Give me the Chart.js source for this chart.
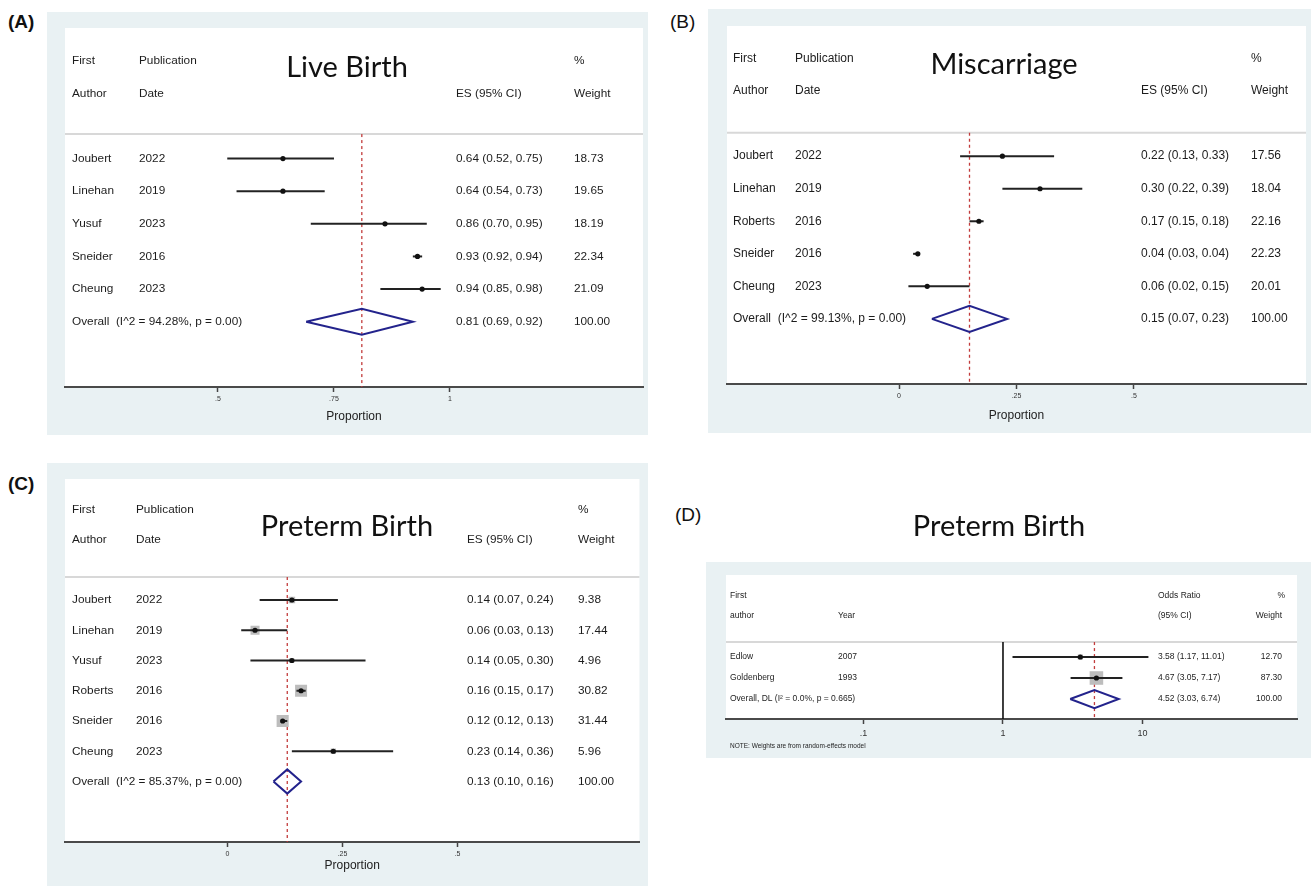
<!DOCTYPE html>
<html>
<head>
<meta charset="utf-8">
<script src="https://cdn.jsdelivr.net/npm/chart.js@4.4.1/dist/chart.umd.min.js"></script>
<style>
  html, body { margin: 0; padding: 0; background: #ffffff; }
  body { width: 1311px; height: 886px; position: relative; overflow: hidden; font-family: "Liberation Sans", Arial, sans-serif; }
  canvas { position: absolute; }
  .plabel { position: absolute; font: bold 19px "Liberation Sans", Arial, sans-serif; color: #111; }
</style>
</head>
<body>
<div class="plabel" style="left:8px; top:11px;">(A)</div>
<div class="plabel" style="left:670px; top:11px; font-weight:normal;">(B)</div>
<div class="plabel" style="left:8px; top:473px;">(C)</div>
<div class="plabel" style="left:675px; top:504px; font-weight:normal;">(D)</div>

<canvas id="cA" width="601" height="423" style="left:47px; top:12px; background:#e9f1f3;"></canvas>
<canvas id="cB" width="603" height="424" style="left:708px; top:9px; background:#e9f1f3;"></canvas>
<canvas id="cC" width="601" height="423" style="left:47px; top:463px; background:#e9f1f3;"></canvas>
<canvas id="cD" width="611" height="280" style="left:700px; top:490px;"></canvas>

<script>
// ---------------- DATA ----------------
// Panel A: Live Birth
const authorsA = ["Joubert", "Linehan", "Yusuf", "Sneider", "Cheung"];
const yearsA   = ["2022", "2019", "2023", "2016", "2023"];
const esA      = [0.64, 0.64, 0.86, 0.93, 0.94];
const loA      = [0.52, 0.54, 0.70, 0.92, 0.85];
const hiA      = [0.75, 0.73, 0.95, 0.94, 0.98];
const weightA  = [18.73, 19.65, 18.19, 22.34, 21.09];
const overallA = { es: 0.81, lo: 0.69, hi: 0.92, label: "Overall  (I^2 = 94.28%, p = 0.00)" };
const ticksA   = [0.5, 0.75, 1];
const tickLabelsA = [".5", ".75", "1"];

// Panel B: Miscarriage
const authorsB = ["Joubert", "Linehan", "Roberts", "Sneider", "Cheung"];
const yearsB   = ["2022", "2019", "2016", "2016", "2023"];
const esB      = [0.22, 0.30, 0.17, 0.04, 0.06];
const loB      = [0.13, 0.22, 0.15, 0.03, 0.02];
const hiB      = [0.33, 0.39, 0.18, 0.04, 0.15];
const weightB  = [17.56, 18.04, 22.16, 22.23, 20.01];
const overallB = { es: 0.15, lo: 0.07, hi: 0.23, label: "Overall  (I^2 = 99.13%, p = 0.00)" };
const ticksB   = [0, 0.25, 0.5];
const tickLabelsB = ["0", ".25", ".5"];

// Panel C: Preterm Birth (proportion)
const authorsC = ["Joubert", "Linehan", "Yusuf", "Roberts", "Sneider", "Cheung"];
const yearsC   = ["2022", "2019", "2023", "2016", "2016", "2023"];
const esC      = [0.14, 0.06, 0.14, 0.16, 0.12, 0.23];
const loC      = [0.07, 0.03, 0.05, 0.15, 0.12, 0.14];
const hiC      = [0.24, 0.13, 0.30, 0.17, 0.13, 0.36];
const weightC  = [9.38, 17.44, 4.96, 30.82, 31.44, 5.96];
const overallC = { es: 0.13, lo: 0.10, hi: 0.16, label: "Overall  (I^2 = 85.37%, p = 0.00)" };
const ticksC   = [0, 0.25, 0.5];
const tickLabelsC = ["0", ".25", ".5"];

// Panel D: Preterm Birth (odds ratio)
const authorsD = ["Edlow", "Goldenberg"];
const yearsD   = ["2007", "1993"];
const esD      = [3.58, 4.67];
const loD      = [1.17, 3.05];
const hiD      = [11.01, 7.17];
const weightD  = [12.70, 87.30];
const overallD = { es: 4.52, lo: 3.03, hi: 6.74, label: "Overall, DL (I\u00B2 = 0.0%, p = 0.665)" };
const ticksD   = [0.1, 1, 10];
const tickLabelsD = [".1", "1", "10"];

// ---------------- HELPERS ----------------
const TXT = "#1c1c1c";
const NAVY = "#23238c";
const RED = "#c23b3b";

function f2(v) { return v.toFixed(2); }

function buildDatasets(p) {
  const ds = [];
  const n = p.es.length;
  // point estimates (top)
  ds.push({ type: "scatter", order: 0, data: p.es.map((v, i) => ({ x: v, y: i })),
            pointRadius: 2.6, pointBackgroundColor: "#111", pointBorderWidth: 0, pointHoverRadius: 2.6 });
  // confidence intervals
  for (let i = 0; i < n; i++) {
    ds.push({ type: "line", order: 1, data: [{ x: p.lo[i], y: i }, { x: p.hi[i], y: i }],
              borderColor: "#222", borderWidth: 2, pointRadius: 0, pointHoverRadius: 0 });
  }
  // pooled diamond
  const o = p.overall, h = p.diamondH;
  ds.push({ type: "line", order: 1,
            data: [{ x: o.lo, y: n }, { x: o.es, y: n - h }, { x: o.hi, y: n }, { x: o.es, y: n + h }, { x: o.lo, y: n }],
            borderColor: NAVY, borderWidth: 2, pointRadius: 0, pointHoverRadius: 0, tension: 0, borderJoinStyle: "miter" });
  // weight boxes
  if (p.boxK) {
    ds.push({ type: "scatter", order: 2, data: p.es.map((v, i) => ({ x: v, y: i })),
              pointStyle: "rect", pointBackgroundColor: "#bdbdbd", pointBorderWidth: 0,
              pointRadius: p.weight.map(w => p.boxK * Math.sqrt(w) / Math.SQRT2),
              pointHoverRadius: p.weight.map(w => p.boxK * Math.sqrt(w) / Math.SQRT2) });
  }
  // null line (OR = 1)
  if (p.nullLine !== undefined) {
    ds.push({ type: "line", order: 3, data: [{ x: p.nullLine, y: p.sep }, { x: p.nullLine, y: p.ymax }],
              borderColor: "#111", borderWidth: 1.6, pointRadius: 0, pointHoverRadius: 0 });
  }
  // pooled-estimate reference line
  ds.push({ type: "line", order: 4, data: [{ x: o.es, y: p.sep }, { x: o.es, y: p.ymax }],
            borderColor: RED, borderWidth: 1.3, borderDash: [3, 3], pointRadius: 0, pointHoverRadius: 0 });
  return ds;
}

function textPlugin(p) {
  return {
    id: "forestText",
    beforeDraw(chart) {
      const { ctx, chartArea } = chart;
      ctx.save();
      if (p.outer) {
        ctx.fillStyle = "#e9f1f3";
        ctx.fillRect(p.outer[0], p.outer[1], p.outer[2], p.outer[3]);
      }
      ctx.fillStyle = "#ffffff";
      ctx.fillRect(chartArea.left, chartArea.top, chartArea.right - chartArea.left, chartArea.bottom - chartArea.top);
      // header separator
      const ys = chart.scales.y.getPixelForValue(p.sep);
      ctx.strokeStyle = "#d8d8d8";
      ctx.lineWidth = 2;
      ctx.beginPath();
      ctx.moveTo(chartArea.left, ys);
      ctx.lineTo(chartArea.right, ys);
      ctx.stroke();
      ctx.restore();
    },
    afterDraw(chart) {
      const { ctx } = chart;
      const y = chart.scales.y;
      const c = p.cols;
      ctx.save();
      ctx.fillStyle = TXT;
      ctx.textBaseline = "middle";
      ctx.font = p.font;
      const put = (t, x, row, align) => { ctx.textAlign = align || "left"; ctx.fillText(t, x, y.getPixelForValue(row)); };
      // headers
      p.headers.forEach(hd => put(hd[0], hd[1], hd[2], hd[3]));
      // rows
      const n = p.es.length;
      for (let i = 0; i < n; i++) {
        put(p.authors[i], c.name, i);
        put(p.years[i], c.year, i);
        put(f2(p.es[i]) + " (" + f2(p.lo[i]) + ", " + f2(p.hi[i]) + ")", c.es, i);
        put(f2(p.weight[i]), c.w, i, c.wAlign);
      }
      const o = p.overall;
      put(o.label, c.name, n);
      put(f2(o.es) + " (" + f2(o.lo) + ", " + f2(o.hi) + ")", c.es, n);
      put("100.00", c.w, n, c.wAlign);
      // big title
      ctx.font = p.titleFont;
      ctx.textAlign = "center";
      ctx.textBaseline = "alphabetic";
      ctx.fillStyle = "#111";
      ctx.fillText(p.title, p.titleX, p.titleY);
      if (p.note) {
        ctx.font = "6.5px 'Liberation Sans', Arial, sans-serif";
        ctx.textAlign = "left";
        ctx.textBaseline = "middle";
        ctx.fillStyle = TXT;
        ctx.fillText(p.note[0], p.note[1], p.note[2]);
      }
      ctx.restore();
    }
  };
}

function makeChart(id, p) {
  const xScale = {
    type: p.logX ? "logarithmic" : "linear",
    min: p.xmin, max: p.xmax, position: "bottom",
    afterBuildTicks: s => { s.ticks = p.ticks.map(v => ({ value: v })); },
    afterFit: s => { s.height = p.axisH; },
    ticks: { callback: (v, i) => p.tickLabels[i], font: { size: p.tickFont, family: "'Liberation Sans', Arial, sans-serif" },
             color: "#333", padding: p.tickPad, autoSkip: false, maxRotation: 0, minRotation: 0 },
    grid: { display: true, drawOnChartArea: false, drawTicks: true, tickLength: 5, tickColor: "#444", tickWidth: 1.5 },
    border: { display: true, color: "#4a4a4a", width: 2 },
    title: p.xTitle ? { display: true, text: p.xTitle, color: "#222",
                        font: { size: 12, family: "'Liberation Sans', Arial, sans-serif" }, padding: { top: 0, bottom: p.titlePad } }
                    : { display: false }
  };
  return new Chart(document.getElementById(id), {
    type: "scatter",
    data: { datasets: buildDatasets(p) },
    options: {
      responsive: false, animation: false, devicePixelRatio: 1,
      layout: { padding: { left: p.pad[0], top: p.pad[1], right: p.pad[2], bottom: 0 } },
      plugins: { legend: { display: false }, tooltip: { enabled: false } },
      events: [],
      scales: {
        x: xScale,
        y: { type: "linear", reverse: true, min: p.ymin, max: p.ymax, display: false }
      }
    },
    plugins: [textPlugin(p)]
  });
}

const FONT = "11.8px 'Liberation Sans', Arial, sans-serif";
const TFONT = "29px Lato, 'Open Sans', sans-serif";

makeChart("cA", {
  authors: authorsA, years: yearsA, es: esA, lo: loA, hi: hiA, weight: weightA, overall: overallA,
  ticks: ticksA, tickLabels: tickLabelsA,
  xmin: 0.1703, xmax: 1.416, ymin: -4, ymax: 7, sep: -0.75, diamondH: 0.4,
  pad: [18, 16, 5], axisH: 48, tickFont: 7, tickPad: 3, xTitle: "Proportion", titlePad: 11,
  font: FONT, titleFont: TFONT, title: "Live Birth", titleX: 300, titleY: 65,
  cols: { name: 25, year: 92, es: 409, w: 527 },
  headers: [["First", 25, -3], ["Author", 25, -2], ["Publication", 92, -3], ["Date", 92, -2],
            ["ES (95% CI)", 409, -2], ["%", 527, -3], ["Weight", 527, -2]]
});

makeChart("cB", {
  authors: authorsB, years: yearsB, es: esB, lo: loB, hi: hiB, weight: weightB, overall: overallB,
  ticks: ticksB, tickLabels: tickLabelsB,
  xmin: -0.366, xmax: 0.866, ymin: -4, ymax: 7, sep: -0.72, diamondH: 0.4,
  pad: [19, 17, 5], axisH: 49, tickFont: 7, tickPad: 3, xTitle: "Proportion", titlePad: 10,
  font: "12px 'Liberation Sans', Arial, sans-serif", titleFont: TFONT, title: "Miscarriage", titleX: 296, titleY: 65,
  cols: { name: 25, year: 87, es: 433, w: 543 },
  headers: [["First", 25, -3], ["Author", 25, -2], ["Publication", 87, -3], ["Date", 87, -2],
            ["ES (95% CI)", 433, -2], ["%", 543, -3], ["Weight", 543, -2]]
});

makeChart("cC", {
  authors: authorsC, years: yearsC, es: esC, lo: loC, hi: hiC, weight: weightC, overall: overallC,
  ticks: ticksC, tickLabels: tickLabelsC, boxK: 2.16,
  xmin: -0.3528, xmax: 0.895, ymin: -4, ymax: 8, sep: -0.76, diamondH: 0.4,
  pad: [18, 16, 5], axisH: 44, tickFont: 7, tickPad: 3, xTitle: "Proportion", titlePad: 13,
  font: FONT, titleFont: TFONT, title: "Preterm Birth", titleX: 300, titleY: 73,
  cols: { name: 25, year: 89, es: 420, w: 531 },
  headers: [["First", 25, -3], ["Author", 25, -2], ["Publication", 89, -3], ["Date", 89, -2],
            ["ES (95% CI)", 420, -2], ["%", 531, -3], ["Weight", 531, -2]]
});

makeChart("cD", {
  authors: authorsD, years: yearsD, es: esD, lo: loD, hi: hiD, weight: weightD, overall: overallD,
  ticks: ticksD, tickLabels: tickLabelsD, boxK: 1.45, logX: true, nullLine: 1,
  xmin: 0.01037, xmax: 127.7, ymin: -3.9, ymax: 2.95, sep: -0.71, diamondH: 0.43,
  pad: [26, 85, 14], axisH: 51, tickFont: 9, tickPad: 4, xTitle: null,
  outer: [6, 72, 605, 196],
  font: "8.5px 'Liberation Sans', Arial, sans-serif", titleFont: TFONT, title: "Preterm Birth", titleX: 299, titleY: 46,
  note: ["NOTE: Weights are from random-effects model", 30, 256],
  cols: { name: 30, year: 138, es: 458, w: 582, wAlign: "right" },
  headers: [["First", 30, -2.9], ["author", 30, -1.95], ["Year", 138, -1.95], ["Odds Ratio", 458, -2.9],
            ["(95% CI)", 458, -1.95], ["%", 585, -2.9, "right"], ["Weight", 582, -1.95, "right"]]
});
</script>
</body>
</html>
